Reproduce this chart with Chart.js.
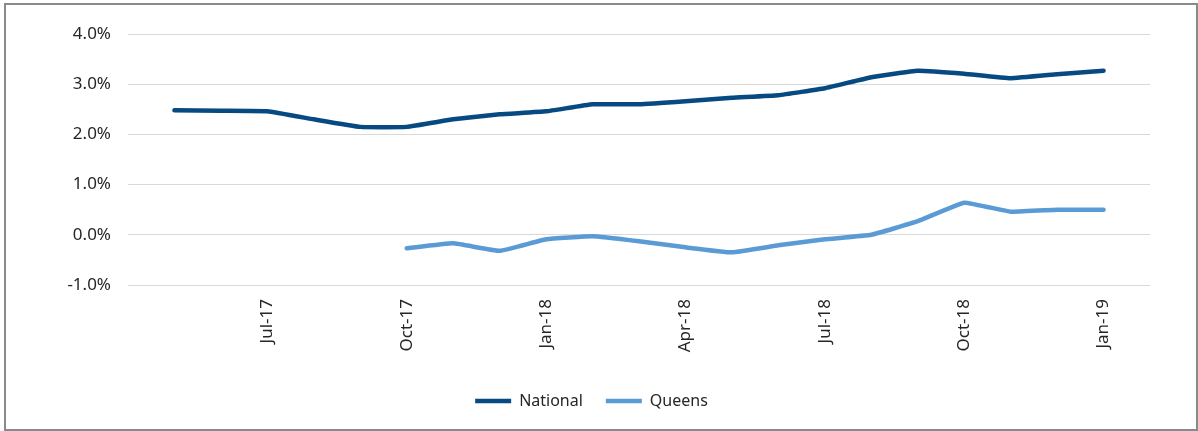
<!DOCTYPE html>
<html>
<head>
<meta charset="utf-8">
<script src="https://cdn.jsdelivr.net/npm/chart.js@4.4.0/dist/chart.umd.min.js"></script>
<style>
  html, body { margin: 0; padding: 0; background: #fff; }
  #frame {
    position: absolute; left: 4px; top: 3px;
    width: 1194px; height: 428px;
    box-sizing: border-box;
    border: 2px solid #8a8a8a;
    overflow: hidden;
  }
  #wrap { position: absolute; left: 0; top: 0; width: 1190px; height: 424px; }
</style>
</head>
<body>
<div id="frame"><div id="wrap"><canvas id="chart"></canvas></div></div>
<script>
const months = ['Apr-17', 'May-17', 'Jun-17', 'Jul-17', 'Aug-17', 'Sep-17', 'Oct-17', 'Nov-17', 'Dec-17',
    'Jan-18', 'Feb-18', 'Mar-18', 'Apr-18', 'May-18', 'Jun-18', 'Jul-18', 'Aug-18', 'Sep-18', 'Oct-18',
    'Nov-18', 'Dec-18', 'Jan-19', 'Feb-19'];
const shownTicks = ['Jul-17', 'Oct-17', 'Jan-18', 'Apr-18', 'Jul-18', 'Oct-18', 'Jan-19'];
const national = [null, 2.48, 2.47, 2.46, 2.30, 2.15, 2.15, 2.30, 2.40, 2.46, 2.60, 2.60, 2.66, 2.73,
    2.78, 2.92, 3.14, 3.27, 3.21, 3.12, 3.20, 3.27, null];
const queens = [null, null, null, null, null, null, -0.27, -0.17, -0.32, -0.09, -0.03, -0.13, -0.25,
    -0.35, -0.21, -0.09, 0.00, 0.27, 0.64, 0.46, 0.50, 0.50, null];

Chart.defaults.font.family = '"Noto Sans", sans-serif';
Chart.defaults.font.size = 17;
Chart.defaults.color = '#262626';

const ctx = document.getElementById('chart').getContext('2d');
const chart = new Chart(ctx, {
    type: 'line',
    data: {
        labels: months,
        datasets: [{
            label: 'National',
            data: national,
            borderColor: '#074a82',
            backgroundColor: '#074a82',
            borderWidth: 4.5,
            pointRadius: 0,
            tension: 0.1,
            borderCapStyle: 'round',
            borderJoinStyle: 'round'
        }, {
            label: 'Queens',
            data: queens,
            borderColor: '#5b9bd5',
            backgroundColor: '#5b9bd5',
            borderWidth: 4.5,
            pointRadius: 0,
            tension: 0.1,
            borderCapStyle: 'round',
            borderJoinStyle: 'round'
        }]
    },
    options: {
        responsive: true,
        maintainAspectRatio: false,
        animation: false,
        layout: { padding: { left: 27, right: 46, top: 29, bottom: 10 } },
        plugins: {
            tooltip: { enabled: false },
            legend: {
                position: 'bottom',
                labels: {
                    usePointStyle: true,
                    pointStyle: 'line',
                    pointStyleWidth: 36,
                    padding: 23,
                    font: { size: 16 }
                }
            }
        },
        scales: {
            x: {
                offset: false,
                grid: { display: false, drawTicks: false },
                border: { display: false },
                ticks: {
                    autoSkip: false,
                    minRotation: 90,
                    maxRotation: 90,
                    padding: 14,
                    callback: function(val, idx) {
                        const lab = months[idx];
                        return shownTicks.includes(lab) ? lab : '';
                    }
                },
                afterFit: function(axis) { axis.height = 85; }
            },
            y: {
                min: -1,
                max: 4,
                grid: { color: '#d9d9d9', lineWidth: 1, drawTicks: false },
                border: { display: false },
                ticks: {
                    stepSize: 1,
                    padding: 17,
                    callback: function(v) { return v.toFixed(1) + '%'; }
                },
                afterFit: function(axis) { axis.width = 95; }
            }
        }
    }
});
</script>
</body>
</html>
